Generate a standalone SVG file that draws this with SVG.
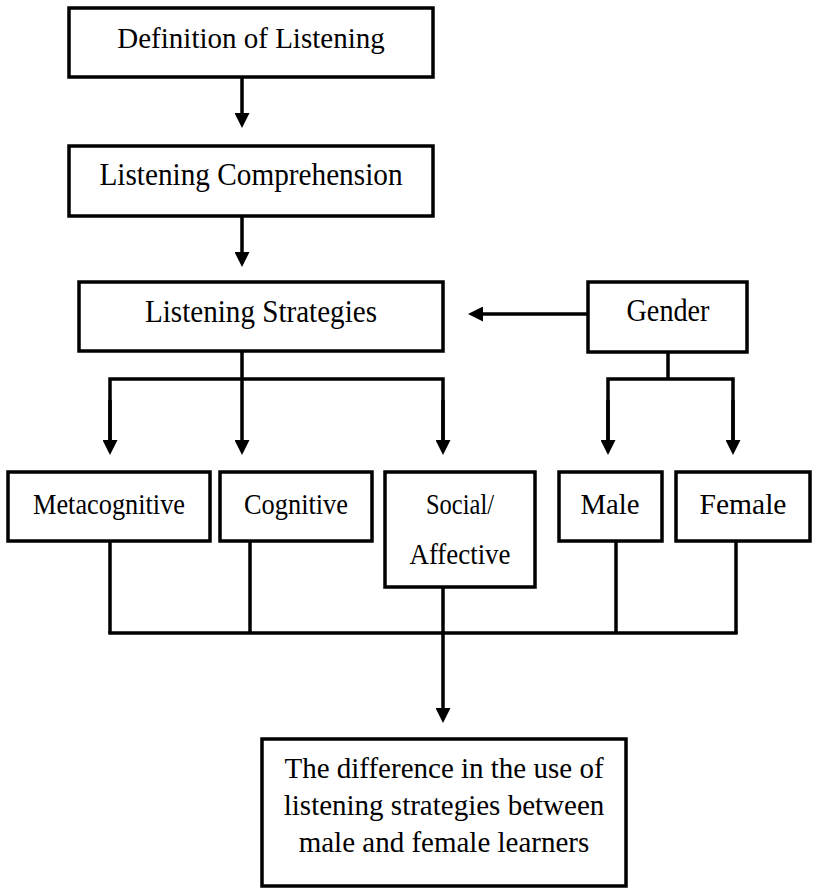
<svg xmlns="http://www.w3.org/2000/svg" width="813" height="889" viewBox="0 0 813 889">
<style>
.box{fill:#fff;stroke:#000;stroke-width:3.5}
.ln{fill:none;stroke:#000;stroke-width:3.5}
.arr{fill:none;stroke:#000;stroke-width:3.5;marker-end:url(#ah)}
text{font-family:"Liberation Serif","Times New Roman",serif;fill:#000;text-anchor:middle}
.t{font-size:29px}
.r{font-size:30px}
</style>
<defs>
<marker id="ah" viewBox="0 0 15 15" refX="5" refY="7.5" markerWidth="15" markerHeight="15" markerUnits="userSpaceOnUse" orient="auto">
<path d="M0,0 L15,7.5 L0,15 z" fill="#000"/>
</marker>
</defs>
<rect width="813" height="889" fill="#fff"/>
<g id="connectors">
<line class="arr" x1="242" y1="77" x2="242" y2="118"/>
<line class="arr" x1="242" y1="216" x2="242" y2="257"/>
<line class="arr" x1="588" y1="314" x2="478" y2="314"/>
<line class="arr" x1="242" y1="351" x2="242" y2="445"/>
<polyline class="ln" points="110,445 110,379 443,379 443,445"/>
<line class="arr" x1="110" y1="400" x2="110" y2="445"/>
<line class="arr" x1="443" y1="400" x2="443" y2="445"/>
<line class="ln" x1="668" y1="352" x2="668" y2="379"/>
<polyline class="ln" points="608,445 608,379 733,379 733,445"/>
<line class="arr" x1="608" y1="400" x2="608" y2="445"/>
<line class="arr" x1="733" y1="400" x2="733" y2="445"/>
<line class="ln" x1="110" y1="541" x2="110" y2="633"/>
<line class="ln" x1="250" y1="541" x2="250" y2="633"/>
<line class="ln" x1="616" y1="541" x2="616" y2="633"/>
<line class="ln" x1="736" y1="541" x2="736" y2="633"/>
<line class="ln" x1="108.25" y1="633" x2="737.75" y2="633"/>
<line class="arr" x1="443" y1="587" x2="443" y2="713"/>
</g>
<g id="definition">
<rect class="box" x="69" y="8" width="364" height="69"/>
<text class="t" x="251" y="48">Definition of Listening</text>
</g>
<g id="comprehension">
<rect class="box" x="69" y="146" width="364" height="70"/>
<text x="251" y="185" font-size="31" textLength="303" lengthAdjust="spacingAndGlyphs">Listening Comprehension</text>
</g>
<g id="strategies">
<rect class="box" x="79" y="282" width="364" height="69"/>
<text x="261" y="322" font-size="31" textLength="232" lengthAdjust="spacingAndGlyphs">Listening Strategies</text>
</g>
<g id="gender">
<rect class="box" x="588" y="282" width="159" height="70"/>
<text x="668" y="321" font-size="31" textLength="83" lengthAdjust="spacingAndGlyphs">Gender</text>
</g>
<g id="metacognitive">
<rect class="box" x="8" y="472" width="202" height="69"/>
<text class="r" x="109" y="514" textLength="152" lengthAdjust="spacingAndGlyphs">Metacognitive</text>
</g>
<g id="cognitive">
<rect class="box" x="220" y="472" width="152" height="69"/>
<text class="r" x="296" y="514" textLength="104" lengthAdjust="spacingAndGlyphs">Cognitive</text>
</g>
<g id="social">
<rect class="box" x="385" y="472" width="150" height="115"/>
<text class="r" x="460" y="514" textLength="68" lengthAdjust="spacingAndGlyphs">Social/</text>
<text class="r" x="460" y="564" textLength="101" lengthAdjust="spacingAndGlyphs">Affective</text>
</g>
<g id="male">
<rect class="box" x="559" y="472" width="103" height="69"/>
<text class="r" x="610" y="514" textLength="59" lengthAdjust="spacingAndGlyphs">Male</text>
</g>
<g id="female">
<rect class="box" x="676" y="472" width="134" height="69"/>
<text class="r" x="743" y="514" textLength="87" lengthAdjust="spacingAndGlyphs">Female</text>
</g>
<g id="difference">
<rect class="box" x="262" y="739" width="364" height="147"/>
<text class="t" x="444" y="778">The difference in the use of</text>
<text class="t" x="444" y="815">listening strategies between</text>
<text class="t" x="444" y="852">male and female learners</text>
</g>
</svg>
